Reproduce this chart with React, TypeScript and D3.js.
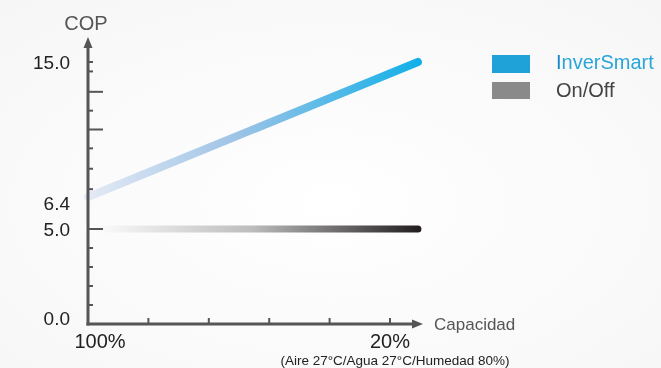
import React from "react";
import * as d3 from "d3";

// ---- data ----
const capacity = [100, 12.6]; // % capacity at start / end of the lines
const inverSmartCOP = [6.4, 15.0];
const onOffCOP = [5.0, 5.0];
const yLabels = [0, 5, 6.4, 15];
const yLabelText = ["0.0", "5.0", "6.4", "15.0"];
const yMinorTicks = [1, 2, 3, 4, 6.9, 8.2, 9.5, 11.9, 14.4];
const yLongTicks = [5, 10.7, 13.1];
const xTicks = [84, 68, 52, 36, 20];
const xLabels = ["100%", "20%"];
const xLabelValues = [100, 20];
const legendNames = ["InverSmart", "On/Off"];

const W = 661;
const H = 368;

export default function App() {
  const x = d3.scaleLinear().domain([100, 20]).range([88, 390]);
  const y = d3.scaleLinear().domain([0, 5, 6.4, 15]).range([324, 229, 197, 62]);
  const line = d3
    .line<[number, number]>()
    .x((d) => x(d[0]))
    .y((d) => y(d[1]));
  const blueData: [number, number][] = capacity.map((c, i) => [c, inverSmartCOP[i]]);
  const grayData: [number, number][] = capacity.map((c, i) => [c, onOffCOP[i]]);
  const axisColor = "#555";
  const font = "Liberation Sans, Arial, Helvetica, sans-serif";
  const x0 = x(100);
  const y0 = y(0);

  return (
    <svg
      width={W}
      height={H}
      style={{ position: "fixed", left: 0, top: 0, fontFamily: font }}
    >
      <defs>
        <radialGradient id="bg" cx="0.5" cy="0.55" r="0.75">
          <stop offset="0" stopColor="#ffffff" />
          <stop offset="1" stopColor="#f6f6f6" />
        </radialGradient>
        <linearGradient id="blueGrad" gradientUnits="userSpaceOnUse" x1={x(100)} y1="0" x2={x(capacity[1])} y2="0">
          <stop offset="0" stopColor="#e4eaf5" />
          <stop offset="0.45" stopColor="#9ec3e6" />
          <stop offset="1" stopColor="#12b0e8" />
        </linearGradient>
        <linearGradient id="grayGrad" gradientUnits="userSpaceOnUse" x1={x(100)} y1="0" x2={x(capacity[1])} y2="0">
          <stop offset="0" stopColor="#ffffff" />
          <stop offset="0.5" stopColor="#bcbcbc" />
          <stop offset="1" stopColor="#231f20" />
        </linearGradient>
      </defs>
      <rect x={0} y={0} width={W} height={H} fill="url(#bg)" />

      {/* series lines */}
      <path d={line(grayData) || ""} stroke="url(#grayGrad)" strokeWidth={7} strokeLinecap="round" fill="none" />
      <path d={line(blueData) || ""} stroke="url(#blueGrad)" strokeWidth={8} strokeLinecap="round" fill="none" />

      {/* y axis */}
      <line x1={x0} y1={y0 + 1.5} x2={x0} y2={46} stroke={axisColor} strokeWidth={3} />
      <path d={`M${x0},37 L${x0 - 4.5},48 L${x0 + 4.5},48 Z`} fill={axisColor} />
      {yMinorTicks.concat([15]).map((v, i) => (
        <line key={"ym" + i} x1={x0} x2={x0 + 5} y1={y(v)} y2={y(v)} stroke={axisColor} strokeWidth={2} />
      ))}
      {yLongTicks.map((v, i) => (
        <line key={"yl" + i} x1={x0} x2={x0 + 15} y1={y(v)} y2={y(v)} stroke={axisColor} strokeWidth={2} />
      ))}
      {yLabels.map((v, i) => (
        <text
          key={"ylab" + i}
          x={70}
          y={y(v) + (v === 0 ? -6 : v === 6.4 ? 6 : 0)}
          textAnchor="end"
          dominantBaseline="central"
          fontSize={19}
          fill="#222"
        >
          {yLabelText[i]}
        </text>
      ))}
      <text x={x0 - 2} y={30} textAnchor="middle" fontSize={20} fill="#555">
        COP
      </text>

      {/* x axis */}
      <line x1={x0 - 1.5} y1={y0} x2={413} y2={y0} stroke={axisColor} strokeWidth={3} />
      <path d={`M423,${y0} L412,${y0 - 4.5} L412,${y0 + 4.5} Z`} fill={axisColor} />
      {xTicks.map((v, i) => (
        <line key={"xt" + i} x1={x(v)} x2={x(v)} y1={y0} y2={y0 - 6} stroke={axisColor} strokeWidth={2} />
      ))}
      {xLabels.map((t, i) => (
        <text
          key={"xl" + i}
          x={x(xLabelValues[i]) + (i === 0 ? 12 : 0)}
          y={348}
          textAnchor="middle"
          fontSize={20}
          fill="#222"
        >
          {t}
        </text>
      ))}
      <text x={434} y={330} fontSize={17} fill="#555">
        Capacidad
      </text>
      <text x={395} y={365} textAnchor="middle" fontSize={13.5} fill="#222">
        (Aire 27°C/Agua 27°C/Humedad 80%)
      </text>

      {/* legend */}
      <rect x={492} y={55} width={38} height={18} fill="#1fa2d7" />
      <rect x={492} y={82} width={38} height={17} fill="#8a8a8a" />
      <text x={556} y={69} fontSize={20} fill="#2aa5d9">
        <tspan fill="#1588cc">{legendNames[0].slice(0, 1)}</tspan>
        {legendNames[0].slice(1)}
      </text>
      <text x={556} y={97} fontSize={20} fill="#444">
        {legendNames[1]}
      </text>
    </svg>
  );
}
